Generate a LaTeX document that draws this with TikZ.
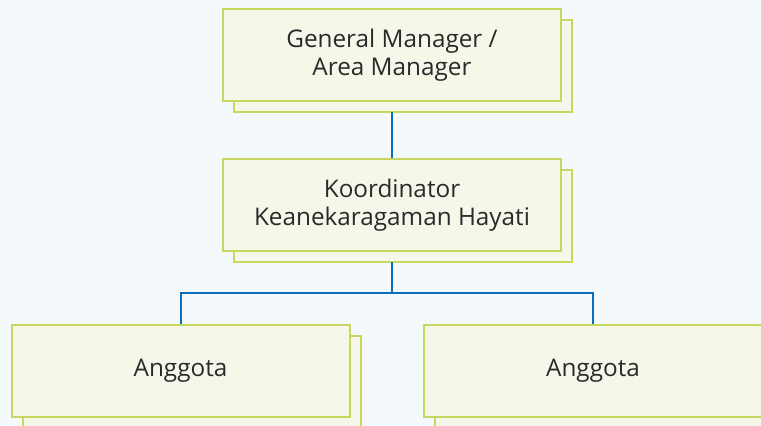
\documentclass[tikz,border=0pt]{standalone}
\usepackage{fontspec}
\setmainfont{Open Sans}
\usetikzlibrary{shadows}

\definecolor{bgblue}{HTML}{F4F9FC}
\definecolor{boxfill}{HTML}{F5F8E9}
\definecolor{boxline}{HTML}{C9D660}
\definecolor{linkblue}{HTML}{0A6EBD}
\definecolor{txt}{HTML}{2A2A2A}

\begin{document}
\begin{tikzpicture}[x=1pt,y=-1pt,
  orgbox/.style={draw=boxline,fill=boxfill,line width=2pt,text=txt,
    minimum width=338pt,minimum height=92pt,align=center,
    font=\fontsize{24.3}{28}\selectfont,
    copy shadow={shadow xshift=11pt,shadow yshift=-11pt}},
  link/.style={draw=linkblue,line width=2pt}]
\clip (0,0) rectangle (761,426);
\fill[bgblue] (0,0) rectangle (761,426);

\node[orgbox] (gm) at (392,55) {General Manager /\\Area Manager};
\node[orgbox] (koord) at (392,205) {Koordinator\\Keanekaragaman Hayati};
\node[orgbox] (left) at (180.5,370.5) {Anggota};
\node[orgbox] (right) at (593,370.5) {Anggota};

\coordinate (gmfoot) at ([yshift=-10pt]gm.south);
\coordinate (koordfoot) at ([yshift=-10pt]koord.south);
\coordinate (fork) at (392,293);

\draw[link] (gmfoot) -- (koord.north);
\draw[link] (koordfoot) -- (fork);
\draw[link] (left.north) |- (fork) -| (right.north);
\end{tikzpicture}
\end{document}
